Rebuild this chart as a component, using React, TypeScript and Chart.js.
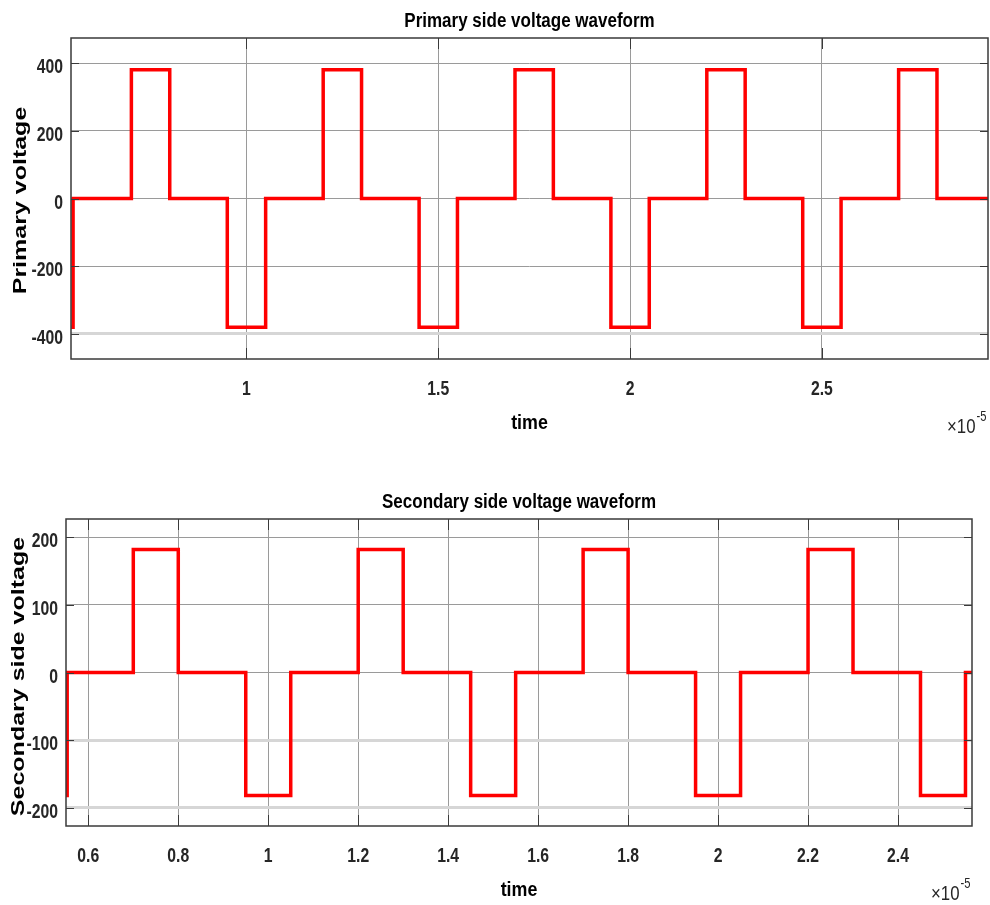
import React, { useEffect, useRef } from "react";
import { Chart, registerables } from "chart.js";

Chart.register(...registerables);

// ---------- data ----------
const primaryTimes = [0.543, 0.548, 0.7, 0.8, 0.95, 1.05, 1.2, 1.3, 1.45, 1.55, 1.7, 1.8, 1.95, 2.05, 2.2, 2.3, 2.45, 2.55, 2.7, 2.8, 2.935];
const primaryLevels = [-380, 0, 380, 0, -380, 0, 380, 0, -380, 0, 380, 0, -380, 0, 380, 0, -380, 0, 380, 0, 0];

const secondaryTimes = [0.55, 0.553, 0.7, 0.8, 0.95, 1.05, 1.2, 1.3, 1.45, 1.55, 1.7, 1.8, 1.95, 2.05, 2.2, 2.3, 2.45, 2.55, 2.566];
const secondaryLevels = [-182, 0, 182, 0, -182, 0, 182, 0, -182, 0, 182, 0, -182, 0, 182, 0, -182, 0, 0];

const primaryXTicks = [1, 1.5, 2, 2.5];
const primaryXTickLabels = ["1", "1.5", "2", "2.5"];
const primaryYTicks = [-400, -200, 0, 200, 400];
const primaryYTickLabels = ["-400", "-200", "0", "200", "400"];
const primaryXRange = [0.5426, 2.933];
const primaryYRange = [-474, 474];
const primaryFaintY = [-400];

const secondaryXTicks = [0.6, 0.8, 1, 1.2, 1.4, 1.6, 1.8, 2, 2.2, 2.4];
const secondaryXTickLabels = ["0.6", "0.8", "1", "1.2", "1.4", "1.6", "1.8", "2", "2.2", "2.4"];
const secondaryYTicks = [-200, -100, 0, 100, 200];
const secondaryYTickLabels = ["-200", "-100", "0", "100", "200"];
const secondaryXRange = [0.5504, 2.5645];
const secondaryYRange = [-227, 227];
const secondaryFaintY = [-100, -200];

const primaryTitle = "Primary side voltage waveform";
const primaryYLabel = "Primary voltage";
const secondaryTitle = "Secondary side voltage waveform";
const secondaryYLabel = "Secondary side voltage";
const xAxisLabel = "time";

// ---------- drawing helpers ----------
const FAMILY = "'Liberation Sans', Arial, Helvetica, sans-serif";

function drawText(
  ctx: CanvasRenderingContext2D,
  text: string,
  x: number,
  y: number,
  font: string,
  align: CanvasTextAlign,
  sx: number,
  color: string
) {
  ctx.save();
  ctx.translate(x, y);
  ctx.scale(sx, 1);
  ctx.font = font;
  ctx.textAlign = align;
  ctx.textBaseline = "alphabetic";
  ctx.fillStyle = color;
  ctx.fillText(text, 0, 0);
  ctx.restore();
}

type Deco = {
  title: string;
  yLabel: string;
  yLabelX: number;
  yLabelShift: number;
  titleGap: number;
  xTickLabels: string[];
  yTickLabels: string[];
};

function makeDecoPlugin(deco: Deco) {
  return {
    id: "matlabDeco",
    afterDraw(chart: any) {
      const ctx: CanvasRenderingContext2D = chart.ctx;
      const { left, right, top, bottom } = chart.chartArea;
      const xs = chart.scales.x;
      const ys = chart.scales.y;
      const tickColor = "#262626";

      // box
      ctx.save();
      ctx.strokeStyle = "#3a3a3a";
      ctx.lineWidth = 1.5;
      ctx.strokeRect(left, top, right - left, bottom - top);

      // inward tick marks
      ctx.lineWidth = 1;
      ctx.strokeStyle = "#3a3a3a";
      ctx.beginPath();
      xs.ticks.forEach((t: any) => {
        const px = Math.round(xs.getPixelForValue(t.value)) + 0.5;
        ctx.moveTo(px, top);
        ctx.lineTo(px, top + 11);
        ctx.moveTo(px, bottom);
        ctx.lineTo(px, bottom - 11);
      });
      ys.ticks.forEach((t: any) => {
        const py = Math.round(ys.getPixelForValue(t.value)) + 0.5;
        ctx.moveTo(left, py);
        ctx.lineTo(left + 8, py);
        ctx.moveTo(right, py);
        ctx.lineTo(right - 8, py);
      });
      ctx.stroke();
      ctx.restore();

      const tickFont = `bold 21px ${FAMILY}`;
      // x tick labels
      xs.ticks.forEach((t: any, i: number) => {
        const px = xs.getPixelForValue(t.value);
        drawText(ctx, deco.xTickLabels[i], px, bottom + 36, tickFont, "center", 0.75, tickColor);
      });
      // y tick labels
      ys.ticks.forEach((t: any, i: number) => {
        const py = ys.getPixelForValue(t.value);
        drawText(ctx, deco.yTickLabels[i], left - 8, py + 10, tickFont, "right", 0.75, tickColor);
      });

      // title
      drawText(ctx, deco.title, (left + right) / 2, top - deco.titleGap, `bold 20px ${FAMILY}`, "center", 0.85, "#000");

      // x label
      drawText(ctx, xAxisLabel, (left + right) / 2, bottom + 70, `bold 21px ${FAMILY}`, "center", 0.85, "#000");

      // exponent
      const ex = right - 41;
      const ey = bottom + 74;
      drawText(ctx, "\u00d710", ex, ey, `21px ${FAMILY}`, "left", 0.8, tickColor);
      ctx.save();
      ctx.font = `21px ${FAMILY}`;
      const w = ctx.measureText("\u00d710").width * 0.8;
      ctx.restore();
      drawText(ctx, "-5", ex + w + 1, ey - 12, `14px ${FAMILY}`, "left", 0.8, tickColor);

      // y label (rotated)
      ctx.save();
      ctx.translate(deco.yLabelX, (top + bottom) / 2 + deco.yLabelShift);
      ctx.rotate(-Math.PI / 2);
      ctx.scale(1, 0.74);
      ctx.font = `bold 25px ${FAMILY}`;
      ctx.textAlign = "center";
      ctx.textBaseline = "alphabetic";
      ctx.fillStyle = "#000";
      ctx.fillText(deco.yLabel, 0, 0);
      ctx.restore();
    },
  };
}

type PanelProps = {
  times: number[];
  levels: number[];
  xTicks: number[];
  yTicks: number[];
  xRange: number[];
  yRange: number[];
  faintY: number[];
  width: number;
  height: number;
  padTop: number;
  padRight: number;
  yAxisWidth: number;
  xAxisHeight: number;
  deco: Deco;
};

function Panel(props: PanelProps) {
  const ref = useRef<HTMLCanvasElement | null>(null);
  useEffect(() => {
    if (!ref.current) return;
    const points = props.times.map((t, i) => ({ x: t, y: props.levels[i] }));
    const chart = new Chart(ref.current, {
      type: "line",
      data: {
        datasets: [
          {
            data: points,
            borderColor: "#ff0000",
            borderWidth: 3.5,
            pointRadius: 0,
            stepped: true,
            fill: false,
            tension: 0,
          },
        ],
      },
      options: {
        animation: false,
        responsive: false,
        devicePixelRatio: 1,
        layout: { padding: { left: 0, top: props.padTop, right: props.padRight, bottom: 0 } },
        plugins: { legend: { display: false }, tooltip: { enabled: false }, title: { display: false } },
        scales: {
          x: {
            type: "linear",
            min: props.xRange[0],
            max: props.xRange[1],
            afterBuildTicks: (scale: any) => {
              scale.ticks = props.xTicks.map((v) => ({ value: v }));
            },
            afterFit: (scale: any) => {
              scale.height = props.xAxisHeight;
            },
            ticks: { display: false },
            border: { display: false },
            grid: { color: "#9a9a9a", lineWidth: 1, drawTicks: false },
          },
          y: {
            type: "linear",
            min: props.yRange[0],
            max: props.yRange[1],
            afterBuildTicks: (scale: any) => {
              scale.ticks = props.yTicks.map((v) => ({ value: v }));
            },
            afterFit: (scale: any) => {
              scale.width = props.yAxisWidth;
            },
            ticks: { display: false },
            border: { display: false },
            grid: {
              color: (c: any) => (c.tick && props.faintY.includes(c.tick.value) ? "#d6d6d6" : "#9a9a9a"),
              lineWidth: (c: any) => (c.tick && props.faintY.includes(c.tick.value) ? 3 : 1),
              drawTicks: false,
            },
          },
        },
      } as any,
      plugins: [makeDecoPlugin(props.deco)],
    });
    return () => chart.destroy();
  }, []);
  return (
    <canvas
      ref={ref}
      width={props.width}
      height={props.height}
      style={{ display: "block", width: props.width, height: props.height }}
    />
  );
}

export default function App() {
  return (
    <div style={{ position: "absolute", left: 0, top: 0, width: 990, height: 905, background: "#fff" }}>
      <div style={{ position: "absolute", left: 0, top: 0 }}>
        <Panel
          times={primaryTimes}
          levels={primaryLevels}
          xTicks={primaryXTicks}
          yTicks={primaryYTicks}
          xRange={primaryXRange}
          yRange={primaryYRange}
          faintY={primaryFaintY}
          width={990}
          height={460}
          padTop={38}
          padRight={2}
          yAxisWidth={71}
          xAxisHeight={101}
          deco={{
            title: primaryTitle,
            yLabel: primaryYLabel,
            yLabelX: 26,
            yLabelShift: 2,
            titleGap: 11,
            xTickLabels: primaryXTickLabels,
            yTickLabels: primaryYTickLabels,
          }}
        />
      </div>
      <div style={{ position: "absolute", left: 0, top: 460 }}>
        <Panel
          times={secondaryTimes}
          levels={secondaryLevels}
          xTicks={secondaryXTicks}
          yTicks={secondaryYTicks}
          xRange={secondaryXRange}
          yRange={secondaryYRange}
          faintY={secondaryFaintY}
          width={990}
          height={445}
          padTop={59}
          padRight={18}
          yAxisWidth={66}
          xAxisHeight={79}
          deco={{
            title: secondaryTitle,
            yLabel: secondaryYLabel,
            yLabelX: 24,
            yLabelShift: 4,
            titleGap: 11,
            xTickLabels: secondaryXTickLabels,
            yTickLabels: secondaryYTickLabels,
          }}
        />
      </div>
    </div>
  );
}
